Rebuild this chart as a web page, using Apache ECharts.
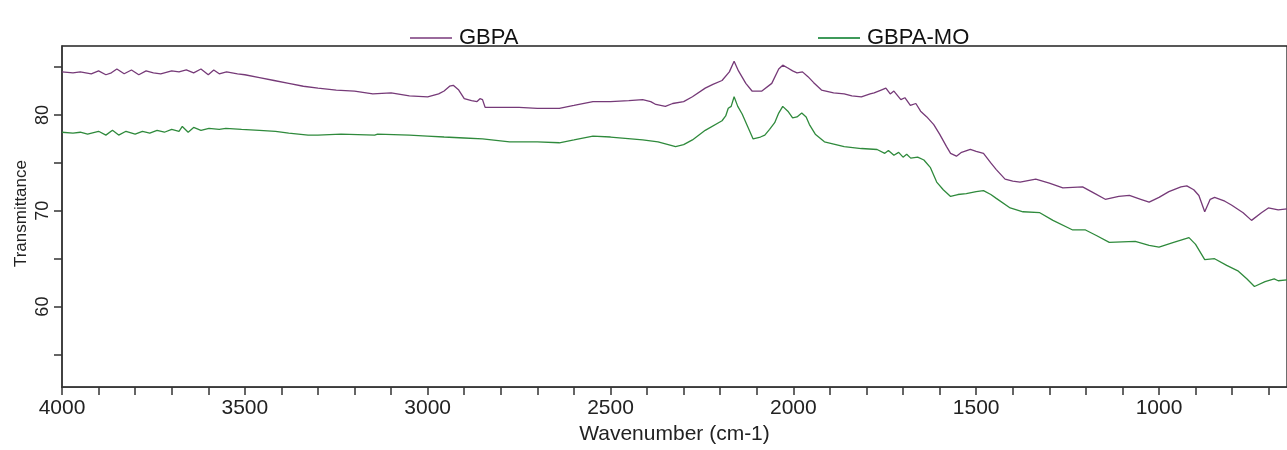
<!DOCTYPE html>
<html>
<head>
<meta charset="utf-8">
<script src="https://cdn.jsdelivr.net/npm/echarts@6/dist/echarts.min.js"></script>
<style>
  html, body { margin: 0; padding: 0; background: #fff; }
  #chart { width: 1287px; height: 450px; }
</style>
</head>
<body>
<div id="chart"></div>
<script>
// wavenumber (cm-1), transmittance
var gbpa = [
  [4000, 84.5], [3970, 84.4], [3950, 84.5], [3920, 84.3], [3900, 84.6], [3880, 84.2], [3865, 84.4],
  [3850, 84.8], [3830, 84.3], [3810, 84.7], [3790, 84.2], [3770, 84.6], [3750, 84.4], [3730, 84.3],
  [3700, 84.6], [3680, 84.5], [3660, 84.7], [3640, 84.4], [3620, 84.8], [3600, 84.2], [3585, 84.7],
  [3570, 84.3], [3550, 84.5], [3520, 84.3], [3500, 84.2], [3460, 83.9], [3420, 83.6], [3380, 83.3],
  [3340, 83.0], [3300, 82.8], [3250, 82.6], [3200, 82.5], [3150, 82.2], [3100, 82.3], [3050, 82.0],
  [3000, 81.9], [2970, 82.2], [2955, 82.5], [2940, 83.0], [2930, 83.1], [2915, 82.6], [2900, 81.7],
  [2880, 81.5], [2865, 81.4], [2857, 81.7], [2850, 81.6], [2843, 80.8], [2800, 80.8], [2750, 80.8],
  [2700, 80.7], [2640, 80.7], [2600, 81.0], [2548, 81.4], [2500, 81.4], [2450, 81.5], [2412, 81.6],
  [2390, 81.4], [2376, 81.1], [2350, 80.9], [2330, 81.2], [2300, 81.4], [2276, 81.9], [2241, 82.8],
  [2220, 83.2], [2195, 83.6], [2175, 84.5], [2162, 85.6], [2150, 84.6], [2130, 83.3], [2113, 82.5],
  [2086, 82.5], [2059, 83.3], [2040, 84.8], [2029, 85.2], [2015, 84.9], [2002, 84.6], [1990, 84.4],
  [1975, 84.5], [1960, 84.0], [1945, 83.4], [1923, 82.6], [1890, 82.3], [1861, 82.2], [1840, 82.0],
  [1814, 81.9], [1790, 82.2], [1779, 82.3], [1760, 82.6], [1747, 82.8], [1735, 82.2], [1725, 82.5],
  [1706, 81.6], [1695, 81.8], [1680, 81.0], [1665, 81.2], [1652, 80.4], [1635, 79.8], [1616, 79.0],
  [1600, 78.0], [1581, 76.7], [1570, 76.0], [1554, 75.7], [1540, 76.1], [1516, 76.4], [1500, 76.2],
  [1480, 76.0], [1460, 75.0], [1445, 74.3], [1421, 73.3], [1400, 73.1], [1380, 73.0], [1337, 73.3],
  [1300, 72.9], [1263, 72.4], [1209, 72.5], [1180, 71.9], [1147, 71.2], [1110, 71.5], [1081, 71.6],
  [1050, 71.2], [1027, 70.9], [1000, 71.4], [973, 72.0], [940, 72.5], [924, 72.6], [905, 72.2],
  [891, 71.6], [875, 69.9], [860, 71.2], [848, 71.4], [820, 71.0], [802, 70.6], [770, 69.8],
  [747, 69.0], [720, 69.8], [701, 70.3], [674, 70.1], [650, 70.2]
];
var gbpaMo = [
  [4000, 78.2], [3970, 78.1], [3950, 78.2], [3930, 78.0], [3900, 78.3], [3880, 77.9], [3862, 78.4],
  [3845, 77.9], [3825, 78.3], [3800, 78.0], [3780, 78.3], [3760, 78.1], [3740, 78.4], [3720, 78.2],
  [3700, 78.5], [3680, 78.3], [3671, 78.8], [3655, 78.2], [3640, 78.7], [3620, 78.4], [3598, 78.6],
  [3570, 78.5], [3552, 78.6], [3509, 78.5], [3460, 78.4], [3416, 78.3], [3380, 78.1], [3327, 77.9],
  [3300, 77.9], [3237, 78.0], [3145, 77.9], [3137, 78.0], [3050, 77.9], [3001, 77.8], [2955, 77.7],
  [2900, 77.6], [2850, 77.5], [2776, 77.2], [2700, 77.2], [2640, 77.1], [2600, 77.4], [2548, 77.8],
  [2500, 77.7], [2412, 77.4], [2370, 77.2], [2322, 76.7], [2300, 76.9], [2276, 77.4], [2241, 78.4],
  [2195, 79.4], [2185, 79.9], [2178, 80.7], [2170, 80.9], [2162, 81.9], [2152, 80.9], [2140, 80.1],
  [2125, 78.8], [2110, 77.5], [2090, 77.7], [2078, 77.9], [2065, 78.5], [2051, 79.2], [2040, 80.2],
  [2029, 80.9], [2015, 80.4], [2002, 79.7], [1990, 79.8], [1977, 80.2], [1965, 79.8], [1956, 79.0],
  [1940, 78.0], [1915, 77.2], [1861, 76.7], [1814, 76.5], [1771, 76.4], [1750, 76.0], [1740, 76.3],
  [1725, 75.8], [1712, 76.1], [1700, 75.6], [1690, 75.9], [1679, 75.5], [1660, 75.6], [1643, 75.3],
  [1625, 74.5], [1608, 73.0], [1590, 72.2], [1570, 71.5], [1550, 71.7], [1527, 71.8], [1500, 72.0],
  [1480, 72.1], [1460, 71.7], [1445, 71.3], [1407, 70.3], [1372, 69.9], [1326, 69.8], [1290, 69.0],
  [1236, 68.0], [1201, 68.0], [1170, 67.4], [1136, 66.7], [1065, 66.8], [1027, 66.4], [1000, 66.2],
  [960, 66.7], [918, 67.2], [900, 66.5], [875, 64.9], [848, 65.0], [815, 64.3], [783, 63.7],
  [760, 62.9], [739, 62.1], [710, 62.6], [685, 62.9], [674, 62.7], [650, 62.8]
];

var xTicks = [4000, 3900, 3800, 3700, 3600, 3500, 3400, 3300, 3200, 3100, 3000, 2900, 2800, 2700,
  2600, 2500, 2400, 2300, 2200, 2100, 2000, 1900, 1800, 1700, 1600, 1500, 1400, 1300, 1200, 1100,
  1000, 900, 800, 700];
var xLabels = [4000, 3500, 3000, 2500, 2000, 1500, 1000];
var yTicks = [55, 60, 65, 70, 75, 80, 85];
var yLabels = [60, 70, 80];

var axisColor = '#333';
var font = 'Liberation Sans, Arial, sans-serif';

var chart = echarts.init(document.getElementById('chart'));
var option = {
    backgroundColor: '#fff',
    animation: false,
    legend: [
        {
            data: ['GBPA'], left: 405, top: 22,
            icon: 'rect', itemWidth: 42, itemHeight: 2, itemGap: 10,
            textStyle: { fontFamily: font, fontSize: 22, color: '#111', padding: [0, 0, 0, 2] }
        },
        {
            data: ['GBPA-MO'], left: 813, top: 22,
            icon: 'rect', itemWidth: 42, itemHeight: 2,
            textStyle: { fontFamily: font, fontSize: 22, color: '#111', padding: [0, 0, 0, 2] }
        }
    ],
    grid: {
        left: 62, right: -9, top: 46, bottom: 52,
        show: true, borderColor: '#222', borderWidth: 1.3,
        containLabel: false
    },
    xAxis: {
        type: 'value',
        inverse: true,
        min: 650,
        max: 4000,
        name: 'Wavenumber (cm-1)',
        nameLocation: 'middle',
        nameGap: 28,
        nameTextStyle: { fontFamily: font, fontSize: 21, color: '#222' },
        axisLine: { show: true, lineStyle: { color: axisColor, width: 1.5 } },
        axisTick: { show: true, inside: false, length: 8, customValues: xTicks, lineStyle: { color: axisColor, width: 1.5 } },
        axisLabel: {
            customValues: xLabels, margin: 11, fontFamily: font, fontSize: 21, color: '#222',
            formatter: function (v) { return String(v); }
        },
        splitLine: { show: false }
    },
    yAxis: {
        type: 'value',
        min: 51.6,
        max: 87.2,
        name: 'Transmittance',
        nameLocation: 'middle',
        nameGap: 32,
        nameMoveOverlap: false,
        nameTextStyle: { fontFamily: font, fontSize: 17, color: '#222', padding: [0, 0, 0, 6] },
        axisLine: { show: true, lineStyle: { color: axisColor, width: 1.5 } },
        axisTick: { show: true, inside: false, length: 8, customValues: yTicks, lineStyle: { color: axisColor, width: 1.5 } },
        axisLabel: {
            customValues: yLabels, rotate: 90, margin: 10, fontFamily: font, fontSize: 18, color: '#222',
            formatter: function (v) { return String(v); }
        },
        splitLine: { show: false }
    },
    series: [
        {
            name: 'GBPA', type: 'line', data: gbpa,
            symbol: 'none', smooth: false,
            lineStyle: { color: '#763a78', width: 1.3 },
            itemStyle: { color: '#9a6a9c' }
        },
        {
            name: 'GBPA-MO', type: 'line', data: gbpaMo,
            symbol: 'none', smooth: false,
            lineStyle: { color: '#2f8a3c', width: 1.3 },
            itemStyle: { color: '#3f9a5a' }
        }
    ]
};
chart.setOption(option);
</script>
</body>
</html>
